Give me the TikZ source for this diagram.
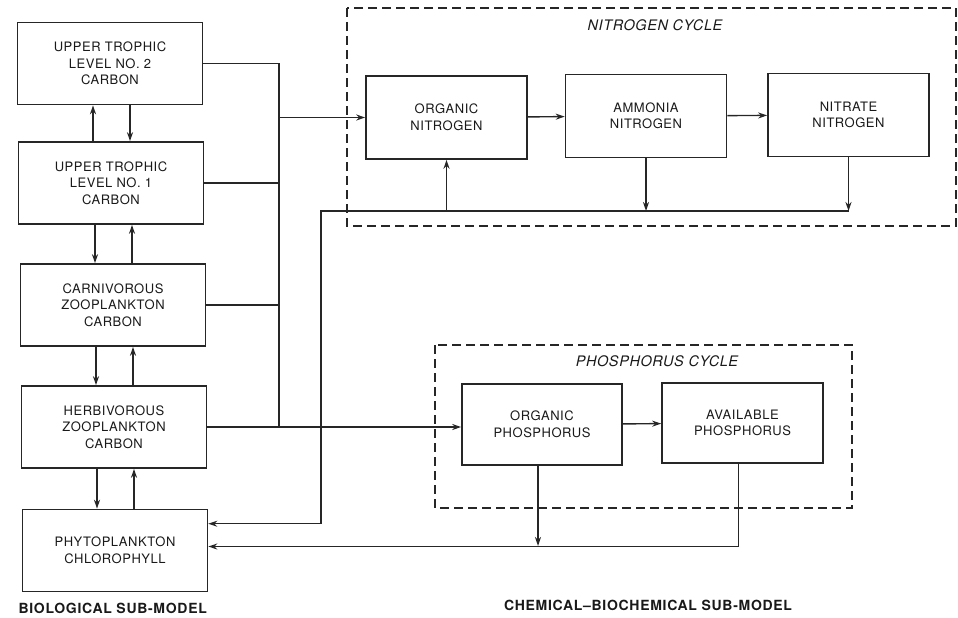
\documentclass[tikz,border=0pt]{standalone}
\usepackage{fontspec}
\setmainfont{TeX Gyre Heros}
\usetikzlibrary{arrows.meta}

\begin{document}
\begin{tikzpicture}
[
x=1pt, y=-1pt,
Box/.style={rectangle, draw=black!85, line width=1.6pt, align=center, inner sep=0pt, text=black!90,
  font=\fontsize{13}{16.5}\selectfont\addfontfeatures{LetterSpace=4}},
LeftBox/.style={Box, minimum width=185pt, minimum height=82pt},
RightBox/.style={Box, minimum width=161pt, minimum height=83pt},
CycleBox/.style={draw=black!85, line width=1.6pt, dash pattern=on 9pt off 5pt},
Line/.style={draw=black!85, line width=1.4pt},
Arrow/.style={Line, -{Stealth[length=9pt,width=6pt]}},
Title/.style={text=black!90, font=\fontsize{14.5}{16}\selectfont\itshape\addfontfeatures{LetterSpace=4}},
Caption/.style={text=black!90, font=\fontsize{14}{16}\selectfont\bfseries\addfontfeatures{LetterSpace=5}},
]

\useasboundingbox (0,0) rectangle (958,618);

\node[LeftBox] (ut2)   at (110,63.5) {UPPER TROPHIC\\LEVEL NO. 2\\CARBON};
\node[LeftBox] (ut1)   at (111,183)  {UPPER TROPHIC\\LEVEL NO. 1\\CARBON};
\node[LeftBox] (carn)  at (113,305)  {CARNIVOROUS\\ZOOPLANKTON\\CARBON};
\node[LeftBox] (herb)  at (114,427)  {HERBIVOROUS\\ZOOPLANKTON\\CARBON};
\node[LeftBox] (phyto) at (115,550.5) {PHYTOPLANKTON\\CHLOROPHYLL};

\node[RightBox] (orgN) at (446.5,117.5) {ORGANIC\\NITROGEN};
\node[RightBox] (ammN) at (646,116)     {AMMONIA\\NITROGEN};
\node[RightBox] (nitN) at (848.5,115)   {NITRATE\\NITROGEN};
\node[RightBox, minimum width=160pt, minimum height=81pt] (orgP) at (542,424.5) {ORGANIC\\PHOSPHORUS};
\node[RightBox, minimum height=80pt] (avaP) at (742.5,423) {AVAILABLE\\PHOSPHORUS};

\draw[CycleBox] (347,8) rectangle (956,226);
\draw[CycleBox] (435,345) rectangle (852,508);
\node[Title] (ntitle) at (655,25)  {NITROGEN CYCLE};
\node[Title] (ptitle) at (657,361) {PHOSPHORUS CYCLE};

\draw[Arrow] ([xshift=-18pt]ut1.north) -- ([xshift=-18pt]ut1.north |- ut2.south);
\draw[Arrow] ([xshift=19pt]ut1.north |- ut2.south) -- ([xshift=19pt]ut1.north);
\draw[Arrow] ([xshift=-18pt]carn.north |- ut1.south) -- ([xshift=-18pt]carn.north);
\draw[Arrow] ([xshift=19pt]carn.north) -- ([xshift=19pt]carn.north |- ut1.south);
\draw[Arrow] ([xshift=-18pt]herb.north |- carn.south) -- ([xshift=-18pt]herb.north);
\draw[Arrow] ([xshift=19pt]herb.north) -- ([xshift=19pt]herb.north |- carn.south);
\draw[Arrow] ([xshift=-18pt]phyto.north |- herb.south) -- ([xshift=-18pt]phyto.north);
\draw[Arrow] ([xshift=19pt]phyto.north) -- ([xshift=19pt]phyto.north |- herb.south);

\coordinate (bus) at (279,0);
\draw[Line] (ut2.east) -| (bus |- herb.east);
\draw[Line] (ut1.east) -- (bus |- ut1.east);
\draw[Line] (carn.east) -- (bus |- carn.east);
\draw[Arrow] (herb.east) -- (orgP.west |- herb.east);
\draw[Arrow] (bus |- orgN.west) -- (orgN.west);

\draw[Arrow] (orgN) -- (ammN);
\draw[Arrow] (ammN) -- (nitN);
\draw[Arrow] (orgP) -- (avaP);

\coordinate (nbus) at (321,211);
\draw[Arrow] (ammN.south) -- (ammN.south |- nbus);
\draw[Arrow] (nitN.south) -- (nitN.south |- nbus);
\draw[Arrow] (nitN.south |- nbus) -- (nbus) |- ([yshift=-15pt]phyto.north east);
\draw[Arrow] (nbus -| orgN.south) -- (orgN.south);

\draw[Arrow] ([xshift=-4pt]orgP.south) -- ([xshift=-4pt]orgP.south |- 0,546);
\draw[Arrow] ([xshift=-4pt]avaP.south) |- ([yshift=4pt]phyto.east);

\node[Caption, anchor=west] (bio) at (15,608) {BIOLOGICAL SUB-MODEL};
\node[Caption] (chem) at (648,605) {CHEMICAL--BIOCHEMICAL SUB-MODEL};

\end{tikzpicture}
\end{document}
